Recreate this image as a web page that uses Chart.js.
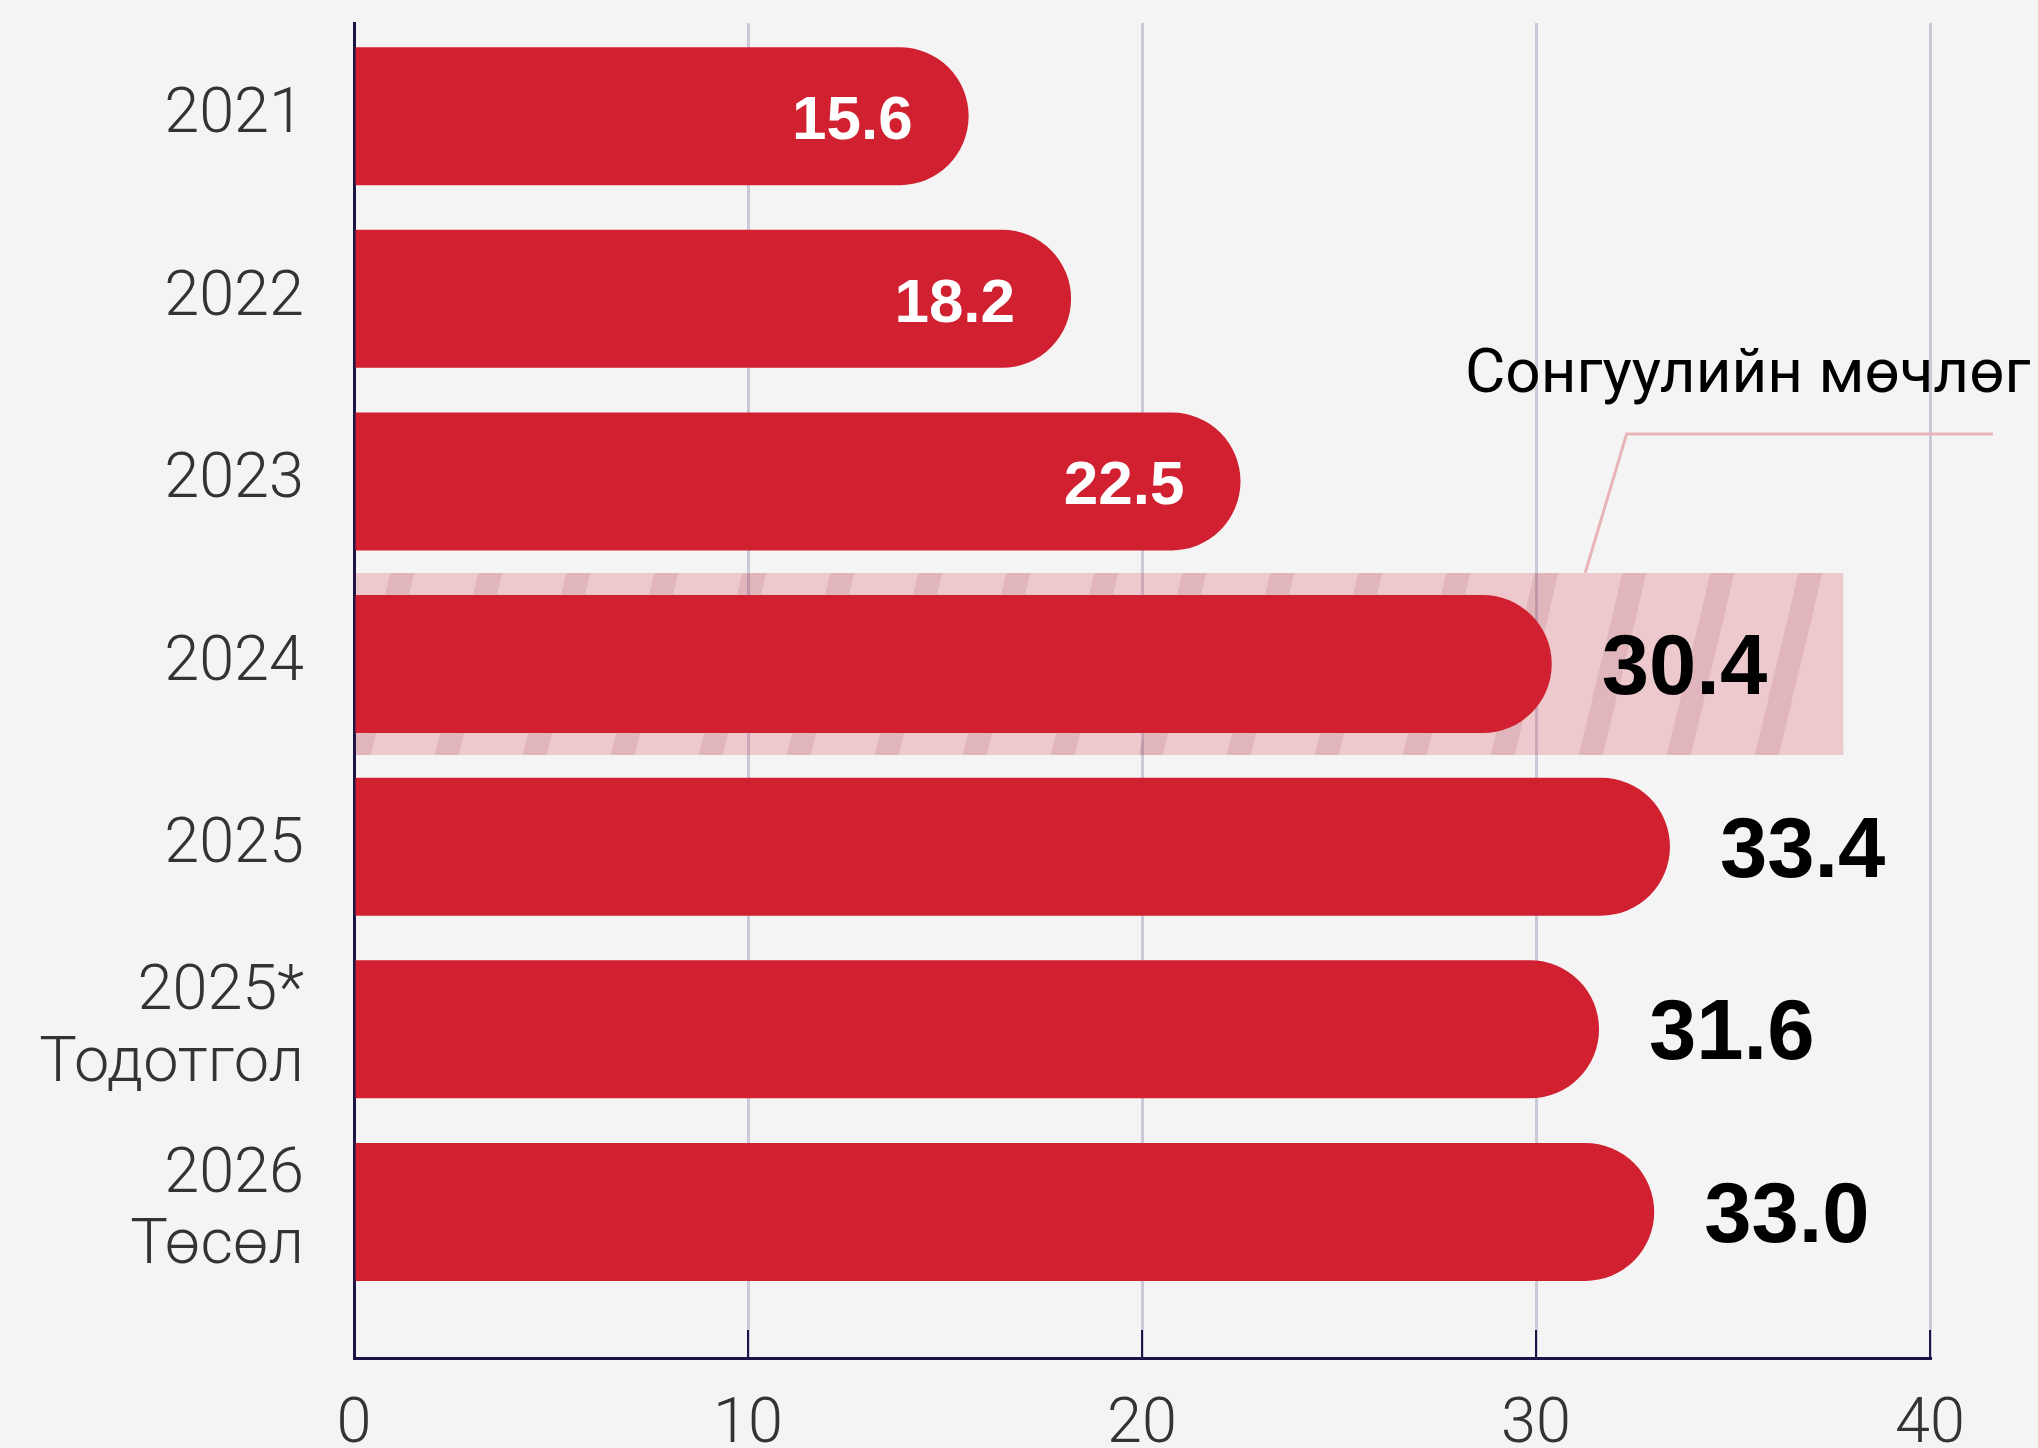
<!DOCTYPE html>
<html>
<head>
<meta charset="utf-8">
<script src="https://cdn.jsdelivr.net/npm/chart.js@4.4.1/dist/chart.umd.min.js"></script>
<style>
  html, body { margin: 0; padding: 0; background: #f4f4f4; }
  #wrap { width: 2038px; height: 1448px; position: relative; }
</style>
</head>
<body>
<div id="wrap"><canvas id="chart"></canvas></div>
<script>
// data
const years = [['2021'], ['2022'], ['2023'], ['2024'], ['2025'], ['2025*', 'Тодотгол'], ['2026', 'Төсөл']];
const values = [15.6, 18.2, 22.5, 30.4, 33.4, 31.6, 33.0];
const xTicks = [0, 10, 20, 30, 40];

// highlighted row ("election cycle")
const bandRow = 3;
const bandEnd = 37.8;
const noteText = 'Сонгуулийн мөчлөг';
const notePos = [42.55, 1.51];
const leaderX = [41.6, 32.3, 31.25];
const leaderY = [1.74, 1.74, 2.5];

const RED = '#d12030';
const NAVY = '#1b1547';

function stripes() {
  const c = document.createElement('canvas');
  c.width = 88; c.height = 4;
  const g = c.getContext('2d');
  g.fillStyle = 'rgba(210,32,48,0.2)';
  g.fillRect(24, 0, 64, 4);
  g.fillStyle = 'rgba(180,40,60,0.3)';
  g.fillRect(0, 0, 24, 4);
  const p = document.getElementById('chart').getContext('2d').createPattern(c, 'repeat');
  p.setTransform(new DOMMatrix([1, 0, -0.24, 1, 0, 0]));
  return p;
}

const extras = {
  id: 'extras',
  afterDatasetsDraw(chart) {
    const { ctx, scales: { x, y } } = chart;
    ctx.save();

    // short tick marks sitting on the x axis
    ctx.strokeStyle = NAVY;
    ctx.lineWidth = 2;
    xTicks.forEach(t => {
      if (t === 0) return;
      const px = x.getPixelForValue(t);
      ctx.beginPath();
      ctx.moveTo(px, x.top);
      ctx.lineTo(px, x.top - 28);
      ctx.stroke();
    });

    // value labels
    chart.getDatasetMeta(1).data.forEach((bar, i) => {
      const v = values[i];
      ctx.textBaseline = 'alphabetic';
      if (v < 25) {
        ctx.font = 'bold 62px "Liberation Sans", Arial, sans-serif';
        ctx.fillStyle = '#ffffff';
        ctx.textAlign = 'right';
        ctx.fillText(v.toFixed(1), bar.x - 56, bar.y + 23);
      } else {
        ctx.font = 'bold 85px "Liberation Sans", Arial, sans-serif';
        ctx.fillStyle = '#000000';
        ctx.textAlign = 'left';
        ctx.fillText(v.toFixed(1), bar.x + 50, bar.y + 30);
      }
    });

    // leader line + note
    ctx.strokeStyle = '#e8b4b8';
    ctx.lineWidth = 3;
    ctx.beginPath();
    leaderX.forEach((lx, i) => {
      const px = x.getPixelForValue(lx), py = y.getPixelForValue(leaderY[i]);
      if (i === 0) ctx.moveTo(px, py); else ctx.lineTo(px, py);
    });
    ctx.stroke();

    ctx.font = '400 62px Roboto, "Liberation Sans", sans-serif';
    ctx.fillStyle = '#000000';
    ctx.textAlign = 'right';
    ctx.fillText(noteText, x.getPixelForValue(notePos[0]), y.getPixelForValue(notePos[1]));
    ctx.restore();
  }
};

new Chart(document.getElementById('chart'), {
  type: 'bar',
  data: {
    datasets: [
      {
        label: 'band',
        data: [{ x: bandEnd, y: bandRow }],
        backgroundColor: stripes(),
        barThickness: 182,
        borderRadius: 0,
        inflateAmount: 0,
        order: 2
      },
      {
        label: 'values',
        data: values.map((v, i) => ({ x: v, y: i })),
        backgroundColor: RED,
        barThickness: 138,
        borderRadius: 69,
        inflateAmount: 0,
        order: 1
      }
    ]
  },
  options: {
    indexAxis: 'y',
    responsive: true,
    maintainAspectRatio: false,
    animation: false,
    grouped: false,
    layout: { padding: { top: 23, right: 108, bottom: 0, left: 0 } },
    plugins: { legend: { display: false }, tooltip: { enabled: false } },
    scales: {
      x: {
        type: 'linear',
        position: 'bottom',
        min: 0, max: 40,
        grid: { color: '#c9c9d8', lineWidth: 3, drawTicks: false },
        border: { display: true, color: NAVY, width: 3 },
        ticks: {
          stepSize: 10,
          padding: 30,
          color: '#333333',
          font: { family: 'Roboto, "Liberation Sans", sans-serif', size: 63, weight: 300 }
        },
        afterFit(s) { s.height = 90; s.paddingLeft = 0; s.paddingRight = 0; }
      },
      y: {
        type: 'linear',
        reverse: true,
        offset: false,
        min: -0.51, max: 6.8,
        grid: { display: false, drawTicks: false },
        border: { display: true, color: NAVY, width: 3 },
        ticks: {
          stepSize: 1,
          includeBounds: false,
          autoSkip: false,
          padding: 50,
          color: '#333333',
          font: { family: 'Roboto, "Liberation Sans", sans-serif', size: 63, weight: 300, lineHeight: 1.13 },
          callback: v => (Number.isInteger(v) && years[v]) ? years[v] : ''
        },
        afterFit(s) { s.width = 354; s.paddingTop = 0; s.paddingBottom = 0; }
      }
    }
  },
  plugins: [extras]
});
</script>
</body>
</html>
